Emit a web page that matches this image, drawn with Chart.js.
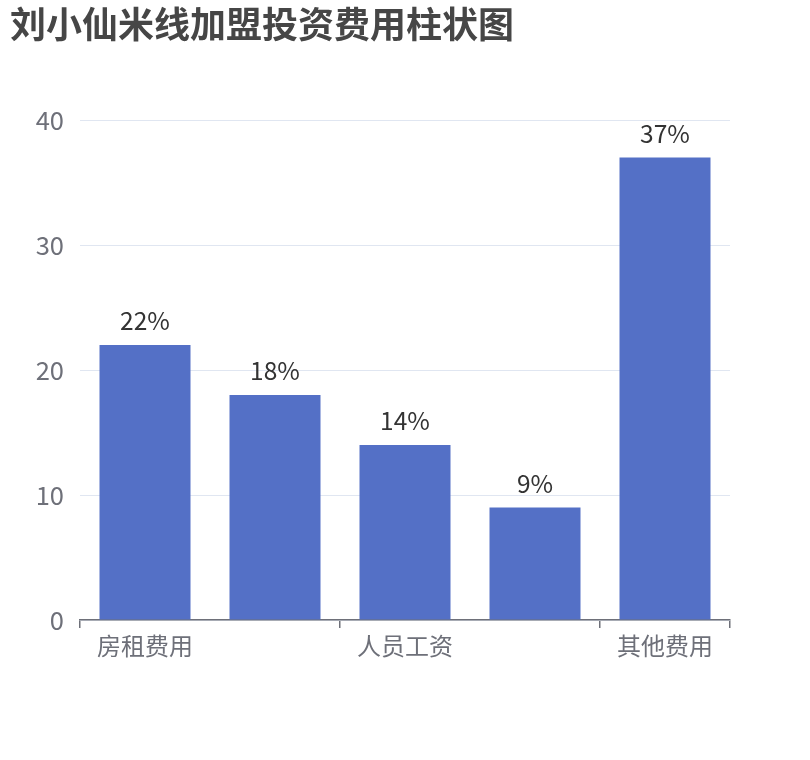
<!DOCTYPE html>
<html>
<head>
<meta charset="utf-8">
<script src="https://cdn.jsdelivr.net/npm/chart.js@4"></script>
<style>
html,body{margin:0;padding:0;background:#fff;}
#wrap{width:810px;height:760px;}
</style>
</head>
<body>
<div id="wrap"><canvas id="c" width="810" height="760"></canvas></div>
<script>
const categories = ['房租费用', '设备费用', '人员工资', '装修费用', '其他费用'];
const values = [22, 18, 14, 9, 37];
const valueLabels = ['22%', '18%', '14%', '9%', '37%'];
const yTicks = [0, 10, 20, 30, 40];

const FONT = "'Noto Sans CJK SC', 'Noto Sans', sans-serif";

const barLabels = {
  id: 'barLabels',
  afterDatasetsDraw(chart) {
    const ctx = chart.ctx;
    const meta = chart.getDatasetMeta(0);
    ctx.save();
    ctx.font = '24.5px ' + FONT;
    ctx.fillStyle = '#333333';
    ctx.textAlign = 'center';
    ctx.textBaseline = 'bottom';
    meta.data.forEach((bar, i) => {
      ctx.fillText(valueLabels[i], bar.x, bar.y - 12);
    });
    ctx.restore();
  }
};

new Chart(document.getElementById('c'), {
  type: 'bar',
  data: {
    labels: categories,
    datasets: [{
      data: values,
      backgroundColor: '#5470C6',
      barPercentage: 0.7,
      categoryPercentage: 1.0
    }]
  },
  plugins: [barLabels],
  options: {
    responsive: false,
    animation: false,
    devicePixelRatio: 1,
    layout: { padding: { left: 10, right: 80, top: 0, bottom: 0 } },
    plugins: {
      legend: { display: false },
      tooltip: { enabled: false },
      title: {
        display: true,
        text: '刘小仙米线加盟投资费用柱状图',
        align: 'start',
        color: '#464646',
        font: { family: FONT, size: 36, weight: 'bold' },
        padding: { top: 3, bottom: 73.8 }
      }
    },
    scales: {
      x: {
        grid: {
          offset: true,
          drawOnChartArea: false,
          drawTicks: true,
          tickLength: 8,
          color: (c) => (c.index === 1 || c.index === 3) ? 'rgba(0,0,0,0)' : '#6E7079',
          lineWidth: 1.5
        },
        border: { display: true, color: '#6E7079', width: 1.5 },
        ticks: {
          autoSkip: false,
          maxRotation: 0,
          color: '#6E7079',
          font: { family: FONT, size: 24 },
          padding: 3,
          callback: (v, i) => (i % 2 === 0 ? categories[i] : '')
        },
        afterFit: (s) => { s.height = 140; }
      },
      y: {
        min: 0,
        max: 40,
        afterBuildTicks: (s) => { s.ticks = yTicks.map(v => ({ value: v })); },
        grid: { color: '#E0E6F1', drawTicks: false, lineWidth: 1 },
        border: { display: false },
        ticks: {
          color: '#6E7079',
          font: { family: FONT, size: 25.5 },
          padding: 16
        },
        afterFit: (s) => { s.width = 70; }
      }
    }
  }
});
</script>
</body>
</html>
